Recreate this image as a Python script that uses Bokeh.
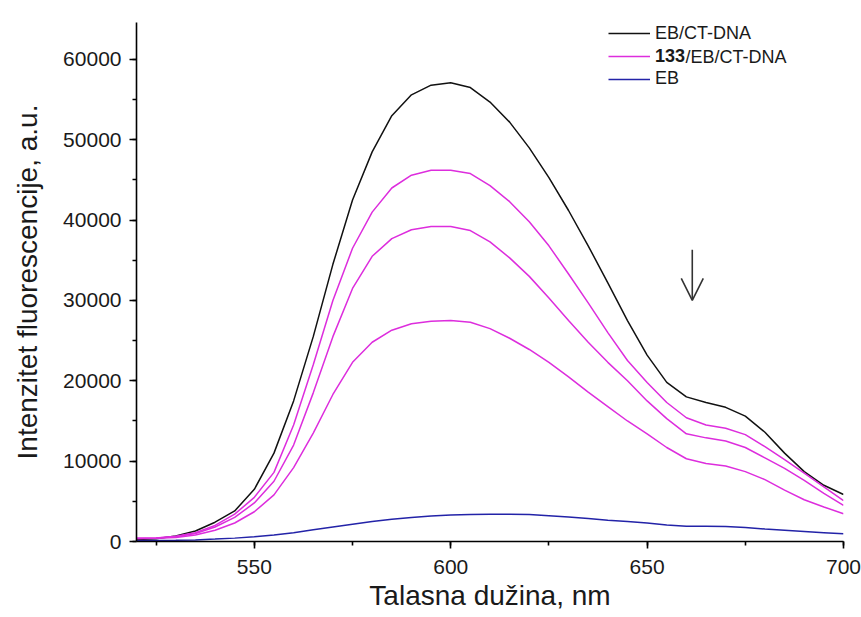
from bokeh.plotting import figure
from bokeh.models import (Range1d, SingleIntervalTicker, BasicTickFormatter, Legend, LegendItem,
                          Label, Arrow, OpenHead)
from bokeh.embed import file_html
from bokeh.resources import INLINE

# ---- data ----
wavelength = [520, 525, 530, 535, 540, 545, 550, 555, 560, 565, 570, 575, 580, 585, 590, 595,
              600, 605, 610, 615, 620, 625, 630, 635, 640, 645, 650, 655, 660, 665, 670, 675,
              680, 685, 690, 695, 700]

eb_ct_dna = [250, 350, 700, 1300, 2400, 3800, 6500, 11000, 17500, 25500, 34500, 42500, 48500,
             53000, 55600, 56800, 57100, 56500, 54700, 52200, 49000, 45300, 41200, 36800, 32200,
             27500, 23200, 19800, 18000, 17300, 16700, 15600, 13600, 11000, 8700, 7000, 5850]

c133_a = [400, 450, 650, 1100, 2000, 3400, 5500, 8600, 14500, 22000, 30000, 36500, 41000,
          44000, 45600, 46200, 46200, 45800, 44300, 42300, 39800, 36800, 33300, 29700, 26000,
          22530, 19800, 17300, 15400, 14500, 14100, 13300, 11800, 10200, 8500, 6800, 5100]

c133_b = [400, 450, 600, 1000, 1800, 3000, 4800, 7500, 12000, 18500, 25500, 31500, 35500,
          37700, 38800, 39200, 39200, 38700, 37300, 35300, 33000, 30300, 27500, 24800, 22300,
          20000, 17500, 15300, 13400, 12900, 12500, 11700, 10400, 9100, 7600, 6000, 4500]

c133_c = [350, 400, 500, 800, 1400, 2300, 3700, 5800, 9200, 13500, 18300, 22300, 24800,
          26300, 27100, 27400, 27500, 27300, 26500, 25300, 23900, 22300, 20500, 18600, 16800,
          15000, 13400, 11700, 10300, 9700, 9400, 8700, 7700, 6400, 5200, 4300, 3450]

eb_only = [100, 120, 150, 200, 300, 420, 600, 820, 1100, 1450, 1800, 2150, 2500, 2780, 3000,
           3180, 3300, 3370, 3400, 3380, 3350, 3200, 3050, 2850, 2650, 2480, 2300, 2050, 1900,
           1900, 1880, 1750, 1550, 1400, 1250, 1100, 950]

x_ticks_interval = 50
y_ticks_interval = 10000

FONT = "Liberation Sans"
BLACK = "#111111"
MAGENTA = "#dd2ddd"
BLUE = "#2323a8"

p = figure(width=861, height=617, output_backend="svg", toolbar_location=None,
           x_range=Range1d(520, 700), y_range=Range1d(0, 64600),
           min_border_left=136, min_border_right=18, min_border_top=22, min_border_bottom=76)
p.outline_line_color = None
p.grid.grid_line_color = None
p.background_fill_color = "white"
p.border_fill_color = "white"

r_black = p.line(wavelength, eb_ct_dna, line_color=BLACK, line_width=1.5)
r_m1 = p.line(wavelength, c133_a, line_color=MAGENTA, line_width=1.5)
r_m2 = p.line(wavelength, c133_b, line_color=MAGENTA, line_width=1.5)
r_m3 = p.line(wavelength, c133_c, line_color=MAGENTA, line_width=1.5)
r_blue = p.line(wavelength, eb_only, line_color=BLUE, line_width=1.5)

# axes
p.xaxis.ticker = SingleIntervalTicker(interval=x_ticks_interval, num_minor_ticks=2)
p.yaxis.ticker = SingleIntervalTicker(interval=y_ticks_interval, num_minor_ticks=2)
p.yaxis.formatter = BasicTickFormatter(use_scientific=False)
for ax in (p.xaxis, p.yaxis):
    ax.axis_line_color = "black"
    ax.axis_line_width = 1.6
    ax.major_tick_line_color = "black"
    ax.major_tick_line_width = 1.6
    ax.minor_tick_line_color = "black"
    ax.minor_tick_line_width = 1.6
    ax.major_tick_in = 0
    ax.major_tick_out = 7
    ax.minor_tick_in = 0
    ax.minor_tick_out = 4
    ax.major_label_text_font = FONT
    ax.major_label_text_font_size = "21px"
    ax.major_label_text_color = "#1a1a1a"
    ax.axis_label_text_font = FONT
    ax.axis_label_text_font_size = "28px"
    ax.axis_label_text_font_style = "normal"
    ax.axis_label_text_color = "#1a1a1a"

p.xaxis.axis_label = "Talasna dužina, nm"
p.yaxis.axis_label = "Intenzitet fluorescencije, a.u."
p.xaxis.major_label_standoff = 11
p.xaxis.axis_label_standoff = 3
p.yaxis.major_label_standoff = 8
p.yaxis.axis_label_standoff = 17

# legends (three separate so that "133" can be bold)
def make_legend(renderer, label, y, bold=False):
    lg = Legend(items=[LegendItem(label=label, renderers=[renderer])],
                location=(472, y), padding=0, margin=0, spacing=0,
                border_line_alpha=0, background_fill_alpha=0,
                glyph_width=42, glyph_height=20, label_height=20, label_standoff=5,
                label_text_font=FONT, label_text_font_size="18px",
                label_text_color="#1a1a1a",
                label_text_font_style="bold" if bold else "normal")
    p.add_layout(lg, "center")
    return lg

make_legend(r_black, "EB/CT-DNA", 497.5)
make_legend(r_m1, "133", 474.5, bold=True)
make_legend(r_blue, "EB", 452)
p.add_layout(Label(x=549, y=485, x_units="screen", y_units="screen", text="/EB/CT-DNA",
                   text_font=FONT, text_font_size="18px", text_color="#1a1a1a",
                   text_baseline="middle", text_align="left"))

# arrow marking the decrease
p.add_layout(Arrow(end=OpenHead(size=22, line_color="#333333", line_width=1.6),
                   x_start=661.5, y_start=36300, x_end=661.5, y_end=30000,
                   line_color="#333333", line_width=1.6))

open("out.html", "w").write(file_html(p, INLINE))
